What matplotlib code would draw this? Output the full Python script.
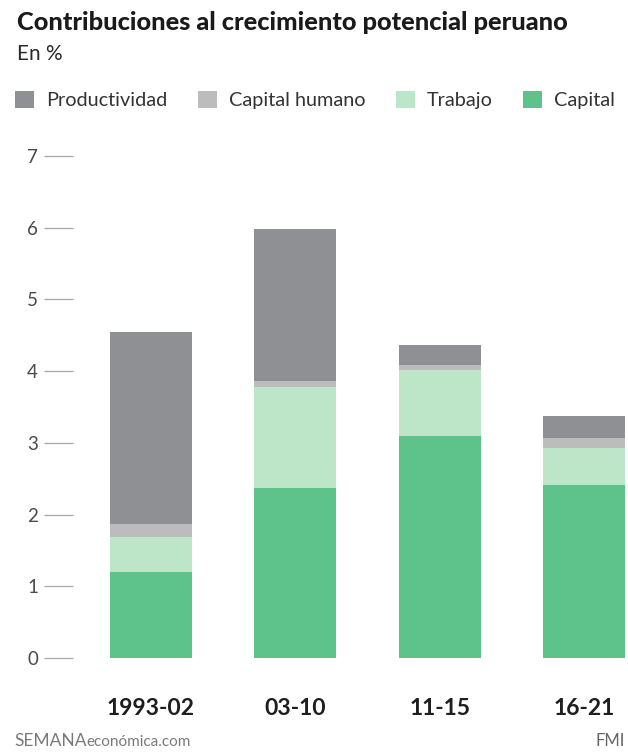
import matplotlib
matplotlib.use("Agg")
import matplotlib.pyplot as plt
import numpy as np

# ---- data ----
periods = ["1993-02", "03-10", "11-15", "16-21"]
capital = [1.20, 2.37, 3.10, 2.41]
trabajo = [0.49, 1.41, 0.92, 0.52]
capital_humano = [0.18, 0.08, 0.07, 0.14]
productividad = [2.68, 2.12, 0.28, 0.31]
series_names = ["Productividad", "Capital humano", "Trabajo", "Capital"]
yticks = [0, 1, 2, 3, 4, 5, 6, 7]

# ---- style ----
plt.rcParams['font.family'] = ['Lato', 'DejaVu Sans']
col_prod = "#8f9094"
col_ch = "#bcbcbc"
col_trab = "#bde6c8"
col_cap = "#5ec28b"

W, H = 628, 756
fig = plt.figure(figsize=(W / 100, H / 100), dpi=100)
fig.patch.set_facecolor("white")

# axes in pixel geometry
px_left, px_right = 73, 628
px_zero, px_seven = 658, 156
unit = (px_zero - px_seven) / 7.0
ytop = 7.2
top_px = px_zero - ytop * unit
ax = fig.add_axes([px_left / W, (H - px_zero) / H, (px_right - px_left) / W, (px_zero - top_px) / H])

x = np.arange(len(periods))
spacing = (584 - 151) / 3.0
ax.set_xlim(-(151 - px_left) / spacing, 3 + (px_right - 584) / spacing)
ax.set_ylim(0, ytop)
bw = 82 / spacing

cap = np.array(capital)
trab = np.array(trabajo)
ch = np.array(capital_humano)
prod = np.array(productividad)

b_cap = ax.bar(x, cap, bw, color=col_cap, label="Capital", linewidth=0)
b_trab = ax.bar(x, trab, bw, bottom=cap, color=col_trab, label="Trabajo", linewidth=0)
b_ch = ax.bar(x, ch, bw, bottom=cap + trab, color=col_ch, label="Capital humano", linewidth=0)
b_prod = ax.bar(x, prod, bw, bottom=cap + trab + ch, color=col_prod, label="Productividad", linewidth=0)

for s in ax.spines.values():
    s.set_visible(False)

ax.set_yticks(yticks)
ax.set_yticklabels([str(v) for v in yticks])
ax.tick_params(axis='y', direction='out', length=29 * 0.72, width=0.9, color="#a8a8a8",
               pad=6 * 0.72, labelsize=13.5, labelcolor="#4a4a4a")

ax.set_xticks(x)
ax.set_xticklabels(periods)
ax.tick_params(axis='x', length=0, pad=40 * 0.72, labelsize=16.5, labelcolor="#1e1e1e")
for lab in ax.get_xticklabels():
    lab.set_fontweight('bold')

# title & subtitle
fig.text(17 / W, 1 - 30 / H, "Contribuciones al crecimiento potencial peruano",
         fontsize=18.3, fontweight='black', color="#1a1a1a", va='baseline', ha='left')
fig.text(17 / W, 1 - 60 / H, "En %", fontsize=15, color="#2a2a2a",
         va='baseline', ha='left')

# legend
fs = 14.3
leg = fig.legend(handles=[b_prod, b_ch, b_trab, b_cap], labels=series_names,
                 loc='upper left', bbox_to_anchor=(15 / W, 1 - 91 / H), ncol=4, frameon=False,
                 fontsize=fs, handlelength=0.95, handleheight=0.95, handletextpad=0.6,
                 columnspacing=1.55, borderpad=0, borderaxespad=0)
for t in leg.get_texts():
    t.set_color("#333333")

# footer
t1 = fig.text(14 / W, 1 - 746 / H, "SEMANA", fontsize=12.5, color="#7a7a7a", va='baseline', ha='left')
fig.canvas.draw()
ax.annotate("económica.com", xy=(1, 0), xycoords=t1, va='bottom', ha='left',
            fontsize=11, color="#7a7a7a", annotation_clip=False)
fig.text(625 / W, 1 - 746 / H, "FMI", fontsize=12, color="#666666", va='baseline', ha='right')

fig.savefig("out.png", dpi=100, facecolor="white")
